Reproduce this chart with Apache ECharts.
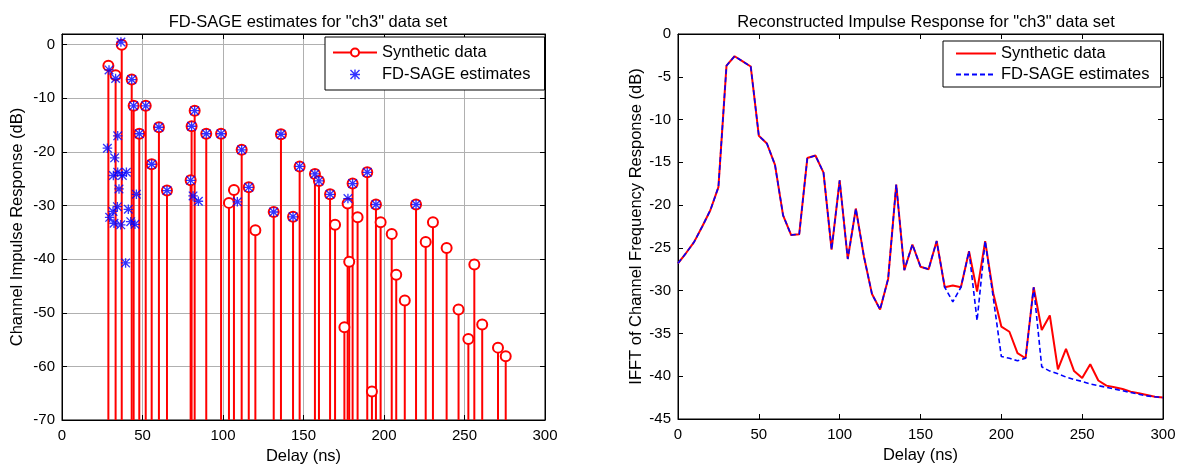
<!DOCTYPE html>
<html>
<head>
<meta charset="utf-8">
<script src="https://cdn.jsdelivr.net/npm/echarts@6/dist/echarts.min.js"></script>
<style>
  html, body { margin: 0; padding: 0; background: #fff; }
  #cir  { position: absolute; left: 0;     top: 0; width: 594px; height: 465px; }
  #ifft { position: absolute; left: 594px; top: 0; width: 594px; height: 465px; }
</style>
</head>
<body>
<div id="cir"></div>
<div id="ifft"></div>
<script>
// ---- left panel: channel impulse response (stems) ----
var synthDelay = [28.8, 33.3, 37.1, 43.3, 44.5, 48.0, 52.0, 55.7, 60.2, 65.2,
                  79.9, 80.5, 82.4, 89.6, 98.8, 103.7, 106.8, 111.6, 116.0, 120.1,
                  131.5, 136.0, 143.5, 147.6, 157.1, 159.6, 166.5, 169.6, 175.4, 177.4,
                  178.4, 180.5, 183.6, 189.6, 192.5, 195.0, 197.9, 204.8, 207.6, 212.9,
                  219.9, 225.9, 230.4, 238.9, 246.3, 252.4, 256.1, 261.0, 270.8, 275.6];
var synthGain  = [-3.9, -5.7, 0.0, -6.5, -11.4, -16.6, -11.4, -22.3, -15.4, -27.2,
                  -25.3, -15.2, -12.3, -16.6, -16.6, -29.5, -27.1, -19.6, -26.6, -34.6,
                  -31.2, -16.7, -32.1, -22.7, -24.1, -25.4, -27.9, -33.6, -52.7, -29.6,
                  -40.5, -25.9, -32.2, -23.8, -64.7, -29.8, -33.1, -35.3, -42.9, -47.7,
                  -29.8, -36.8, -33.1, -37.9, -49.4, -54.9, -41.0, -52.2, -56.5, -58.1];

var estDelay = [28.2, 29.2, 29.6, 31.7, 31.9, 32.3, 32.7, 33.3, 34.4, 34.6,
                34.6, 35.4, 36.5, 36.6, 37.5, 39.5, 40.0, 41.2, 42.7, 43.3,
                44.5, 45.3, 46.2, 48.0, 52.0, 55.7, 60.2, 65.2, 79.9, 80.5,
                81.4, 82.4, 84.7, 89.6, 98.8, 108.9, 111.6, 116.0, 131.5, 136.0,
                143.5, 147.6, 157.1, 159.6, 166.5, 177.6, 180.5, 189.6, 195.0, 219.9];
var estGain  = [-19.3, -4.7, -32.2, -31.1, -24.4, -33.3, -21.1, -6.3, -30.2, -17.0,
                -23.8, -26.9, -33.6, 0.5, -24.4, -40.7, -23.8, -30.7, -33.0, -6.5,
                -11.4, -33.5, -27.9, -16.6, -11.4, -22.3, -15.4, -27.2, -25.3, -15.2,
                -28.2, -12.3, -29.2, -16.6, -16.6, -29.3, -19.6, -26.6, -31.2, -16.7,
                -32.1, -22.7, -24.1, -25.4, -27.9, -28.7, -25.9, -23.8, -29.8, -29.8];

// ---- right panel: reconstructed impulse response ----
var ifftDelay = [0, 5, 10, 15, 20, 25, 30, 35, 40, 45, 50, 55, 60, 65, 70, 75, 80, 85, 90, 95,
                 100, 105, 110, 115, 120, 125, 130, 135, 140, 145, 150, 155, 160, 165, 170, 175, 180, 185, 190, 195,
                 200, 205, 210, 215, 220, 225, 230, 235, 240, 245, 250, 255, 260, 265, 270, 275, 280, 285, 290, 295, 300];
var ifftSynth = [-26.8, -25.6, -24.3, -22.5, -20.6, -17.9, -3.7, -2.6, -3.2, -3.8,
                 -11.9, -12.8, -15.3, -21.2, -23.5, -23.4, -14.5, -14.2, -16.2, -25.2,
                 -17.1, -26.3, -20.4, -26.0, -30.4, -32.2, -28.6, -17.6, -27.6, -24.6,
                 -27.2, -27.5, -24.2, -29.6, -29.4, -29.6, -25.4, -30.1, -24.2, -30.3,
                 -34.2, -34.8, -37.3, -37.9, -29.6, -34.6, -32.9, -39.2, -36.8, -39.4,
                 -40.2, -38.6, -40.5, -41.1, -41.3, -41.5, -41.8, -42.0, -42.2, -42.4, -42.5];
var ifftEst   = [-26.8, -25.6, -24.3, -22.5, -20.6, -17.9, -3.7, -2.6, -3.2, -3.8,
                 -11.9, -12.8, -15.3, -21.2, -23.5, -23.4, -14.5, -14.2, -16.2, -25.2,
                 -17.1, -26.3, -20.4, -26.0, -30.4, -32.2, -28.6, -17.6, -27.6, -24.6,
                 -27.2, -27.5, -24.2, -29.6, -31.3, -29.6, -25.4, -33.5, -24.2, -30.8,
                 -37.7, -37.9, -38.2, -37.9, -29.6, -38.9, -39.4, -39.7, -40.1, -40.4,
                 -40.6, -40.9, -41.1, -41.3, -41.5, -41.7, -41.9, -42.1, -42.3, -42.4, -42.5];

var FONT = "'Liberation Sans', Arial, Helvetica, sans-serif";
var txt = { color: '#000', fontFamily: FONT, fontSize: 16.5 };
var STAR = 'path://M4.3,0H5.7V10H4.3Z M0,4.3H10V5.7H0Z M0,1L1,0L10,9L9,10Z M9,0L10,1L1,10L0,9Z';

function pairs(xs, ys) {
    var out = [];
    for (var i = 0; i < xs.length; i++) out.push([xs[i], ys[i]]);
    return out;
}

// main axis + mirrored axis (ticks only), matlab box style
function xAxes(gap, gridOn) {
    return [{
        type: 'value', min: 0, max: 300, interval: 50,
        name: 'Delay (ns)', nameLocation: 'middle', nameGap: gap, nameTextStyle: txt,
        axisLine: { show: true, onZero: false, lineStyle: { color: '#000' } },
        axisTick: { show: true, inside: true, length: 5, lineStyle: { color: '#000' } },
        axisLabel: { color: '#000', fontFamily: FONT, fontSize: 15, margin: 8 },
        splitLine: { show: gridOn, lineStyle: { color: '#b0b0b0', width: 1 } }
    }, {
        type: 'value', position: 'top', min: 0, max: 300, interval: 50,
        axisLine: { show: true, onZero: false, lineStyle: { color: '#000' } },
        axisTick: { show: true, inside: true, length: 5, lineStyle: { color: '#000' } },
        axisLabel: { show: false }, splitLine: { show: false }
    }];
}
function yAxes(min, max, step, title, gap, gridOn) {
    return [{
        type: 'value', min: min, max: max, interval: step,
        name: title, nameLocation: 'middle', nameGap: gap, nameMoveOverlap: false,
        nameTextStyle: txt,
        axisLine: { show: true, onZero: false, lineStyle: { color: '#000' } },
        axisTick: { show: true, inside: true, length: 5, lineStyle: { color: '#000' } },
        axisLabel: { color: '#000', fontFamily: FONT, fontSize: 15, margin: 7, showMaxLabel: max === 0 },
        splitLine: { show: gridOn, lineStyle: { color: '#b0b0b0', width: 1 } }
    }, {
        type: 'value', position: 'right', min: min, max: max, interval: step,
        axisLine: { show: true, onZero: false, lineStyle: { color: '#000' } },
        axisTick: { show: true, inside: true, length: 5, lineStyle: { color: '#000' } },
        axisLabel: { show: false }, splitLine: { show: false }
    }];
}

// ------------------------------
// Left: stem plot of estimates
// ------------------------------
var cirChart = echarts.init(document.getElementById('cir'));
cirChart.setOption({
    animation: false,
    title: {
        text: 'FD-SAGE estimates for "ch3" data set',
        left: 303, top: 9, textAlign: 'center',
        textStyle: { color: '#000', fontFamily: FONT, fontSize: 16.5, fontWeight: 'normal' }
    },
    grid: { left: 62, right: 49, top: 34, bottom: 45, outerBoundsMode: 'none',
            show: true, borderColor: '#000', borderWidth: 1 },
    legend: {
        data: ['Synthetic data', 'FD-SAGE estimates'],
        orient: 'vertical', left: 325, top: 37,
        padding: [7, 14, 7, 7], itemGap: 5, itemWidth: 44, itemHeight: 10,
        backgroundColor: '#fff', borderColor: '#000', borderWidth: 1, borderRadius: 0,
        textStyle: txt,
        lineStyle: { width: 2, opacity: 1 }
    },
    xAxis: xAxes(27, true),
    yAxis: yAxes(-70, 2, 10, 'Channel Impulse Response (dB)', 36, true),
    series: [{
        // stems drawn from the bottom of the axis up to each value
        type: 'custom',
        z: 2, silent: true,
        data: pairs(synthDelay, synthGain),
        renderItem: function (params, api) {
            var top = api.coord([api.value(0), api.value(1)]);
            var bottom = api.coord([api.value(0), -70]);
            return {
                type: 'line',
                shape: { x1: top[0], y1: top[1], x2: bottom[0], y2: bottom[1] },
                style: { stroke: '#ff0000', lineWidth: 2 }
            };
        }
    }, {
        name: 'Synthetic data',
        type: 'line', z: 3,
        data: pairs(synthDelay, synthGain),
        symbol: 'emptyCircle', symbolSize: 10, showSymbol: true,
        itemStyle: { color: '#ff0000', borderWidth: 1.6 },
        lineStyle: { width: 0, color: '#ff0000' }
    }, {
        name: 'FD-SAGE estimates',
        type: 'scatter', z: 4,
        data: pairs(estDelay, estGain),
        symbol: STAR, symbolSize: 9.5,
        itemStyle: { color: '#0000ff' }
    }]
});

// ------------------------------
// Right: reconstructed impulse response
// ------------------------------
var ifftChart = echarts.init(document.getElementById('ifft'));
ifftChart.setOption({
    animation: false,
    title: {
        text: 'Reconstructed Impulse Response for "ch3" data set',
        left: 327, top: 9, textAlign: 'center',
        textStyle: { color: '#000', fontFamily: FONT, fontSize: 16.5, fontWeight: 'normal' }
    },
    grid: { left: 84, right: 25, top: 34, bottom: 46, outerBoundsMode: 'none',
            show: true, borderColor: '#000', borderWidth: 1 },
    legend: {
        data: ['Synthetic data', 'FD-SAGE estimates'],
        orient: 'vertical', left: 349, top: 41,
        padding: [4, 11, 4, 12], itemGap: 4, itemWidth: 40, itemHeight: 10,
        backgroundColor: '#fff', borderColor: '#000', borderWidth: 1, borderRadius: 0,
        textStyle: txt,
        itemStyle: { opacity: 0 }
    },
    xAxis: xAxes(28, false),
    yAxis: yAxes(-45, 0, 5, 'IFFT of Channel Frequency Response (dB)', 33, false),
    series: [{
        name: 'Synthetic data',
        type: 'line', symbol: 'none', z: 2,
        data: pairs(ifftDelay, ifftSynth),
        lineStyle: { color: '#ff0000', width: 2 },
        itemStyle: { color: '#ff0000' }
    }, {
        name: 'FD-SAGE estimates',
        type: 'line', symbol: 'none', z: 3,
        data: pairs(ifftDelay, ifftEst),
        lineStyle: { color: '#0000ff', width: 1.6, type: [5, 3] },
        itemStyle: { color: '#0000ff' }
    }]
});
</script>
</body>
</html>
